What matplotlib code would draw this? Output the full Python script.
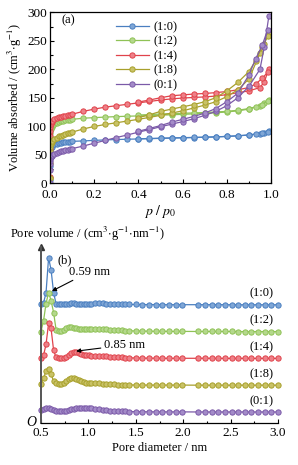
import matplotlib
matplotlib.use("Agg")
import matplotlib.pyplot as plt
from matplotlib.ticker import MultipleLocator
import numpy as np

plt.rcParams['font.family'] = ['Liberation Serif', 'DejaVu Serif']
plt.rcParams['mathtext.fontset'] = 'stix'
plt.rcParams['font.size'] = 9

# ---------------- data: panel (a) N2 isotherms ----------------
labels = ['(1:0)', '(1:2)', '(1:4)', '(1:8)', '(0:1)']
colors = ['#4a7fc0', '#8fc256', '#e0434b', '#a8a02c', '#7b5aa8']
faces = ['#7fa6d6', '#b4d88c', '#ee8088', '#c9c266', '#a38bc8']

p_ads = [0.0, 0.0002, 0.0005, 0.001, 0.002, 0.004, 0.007, 0.01, 0.02, 0.03, 0.04,
         0.05, 0.06, 0.07, 0.08, 0.09, 0.1, 0.15, 0.2, 0.25, 0.3, 0.35, 0.4, 0.45,
         0.5, 0.55, 0.6, 0.65, 0.7, 0.75, 0.8, 0.85, 0.9, 0.95, 0.97, 0.99]
p_des = [0.985, 0.96, 0.93, 0.9, 0.85, 0.8, 0.75, 0.7, 0.65, 0.6, 0.55, 0.5, 0.45, 0.4]

ads_10 = [5, 30, 45, 52, 57, 61, 64, 66, 68, 69.5, 70.5, 71, 71.5, 72, 72.5, 73, 73.3,
          74, 75, 75.8, 76.5, 77, 77.5, 78, 78.5, 79, 79.5, 80, 80.5, 81, 82, 83, 84.5,
          87, 88.5, 91]
des_10 = [90, 88, 86, 84.5, 83, 82, 81.2, 80.7, 80.2, 79.8, 79.3, 78.8, 78.3, 77.8]

ads_12 = [8, 50, 70, 80, 88, 95, 99, 101, 104, 106, 107.5, 108.5, 109.5, 110.3, 111,
          111.5, 112, 114, 115, 116, 116.8, 117.5, 118, 118.7, 119.4, 120, 120.8, 121.6,
          122.5, 123.5, 125, 127, 130, 136, 140, 146]
des_12 = [145, 138, 134, 131, 128, 126, 125, 124, 123.3, 122.7, 122, 121.3, 120.5, 119.5]

ads_14 = [10, 60, 82, 92, 99, 104, 107, 109, 112, 114, 115.5, 116.5, 117.5, 118.5, 119.3,
          120, 121, 126, 130, 133.5, 136, 138.5, 141, 143.5, 146, 148, 149.5, 150.5,
          151.5, 153, 155.5, 159, 162, 168, 178, 201]
des_14 = [195, 184, 174, 168, 164, 161, 159, 157.5, 156.5, 155, 153.5, 150, 146, 142.5]

ads_18 = [8, 35, 50, 57, 63, 68, 72, 74, 77.5, 80, 82, 83.5, 85, 86.5, 87.5, 88.5, 89.5,
          95, 99.5, 103, 106, 109, 112, 115.5, 119, 123, 127, 132, 137, 143, 152, 164,
          183, 228, 245, 266]
des_18 = [258, 240, 215, 196, 177, 162, 150, 143, 138, 134, 130, 126, 120, 115]

ads_01 = [0, 22, 33, 38, 42, 45, 47.5, 49, 51.5, 53, 54.5, 55.5, 56.5, 57.5, 58.5, 59.5,
          60.5, 65, 70, 75, 80, 84.5, 89.5, 94, 99, 103.5, 108, 113, 119, 126, 136, 150,
          170, 200, 240, 293]
des_01 = [270, 242, 218, 190, 158, 143, 131, 123, 117, 112, 107, 101, 96, 91]

ads_all = [ads_10, ads_12, ads_14, ads_18, ads_01]
des_all = [des_10, des_12, des_14, des_18, des_01]

# ---------------- data: panel (b) pore size distribution (a.u.) ----------------
d_pore = [0.500, 0.527, 0.553, 0.580, 0.606, 0.633, 0.659, 0.686, 0.712, 0.739, 0.765,
          0.792, 0.818, 0.845, 0.871, 0.898, 0.924, 0.951, 0.977, 1.004, 1.030,
          1.07, 1.11, 1.15, 1.19, 1.23, 1.27, 1.31, 1.35, 1.39, 1.43,
          1.50, 1.57, 1.64, 1.71, 1.78, 1.85, 1.92, 1.99,
          2.16, 2.23, 2.30, 2.37, 2.44, 2.51, 2.58, 2.65, 2.72, 2.79, 2.86, 2.93, 3.00]

psd_10 = [0.5, 2, 12, 47, 35, 12, 1, 0.5, 0.5, 0.5, 0.8, 1.2, 1.5, 1.5, 1.2, 0.9, 0.7,
          0.6, 0.7, 0.9, 1.1,
          1.3, 1.5, 1.4, 1.2, 1.0, 0.8, 0.6, 0.5, 0.4, 0.3,
          0.3, 0.2, 0.2, 0.2, 0.1, 0.1, 0.1, 0.1,
          0.1, 0.1, 0.1, 0.1, 0.1, 0.0, 0.0, 0.0, 0.0, 0.0, 0.0, 0.0, 0.0]
psd_12 = [0, 11, 28, 39, 31, 19, 2, 0.5, 0.5, 1.5, 3.5, 4.5, 4.5, 4.0, 3.5, 3.0, 3.0,
          3.0, 3.0, 3.0, 3.0,
          3.0, 2.8, 2.5, 2.2, 2.0, 1.7, 1.4, 1.2, 1.0, 0.8,
          0.6, 0.5, 0.4, 0.3, 0.3, 0.2, 0.2, 0.2,
          0.1, 0.1, 0.1, 0.1, 0.1, 0.1, 0.0, 0.0, 0.0, 0.0, 0.0, 0.0, 0.0]
psd_14 = [0.5, 3, 14, 35, 30, 8, 1, 0.5, 0.5, 0.8, 1.5, 3.0, 5.0, 6.5, 6.5, 5.5, 4.5,
          3.8, 3.3, 3.0, 2.8,
          2.8, 2.6, 2.3, 2.0, 1.7, 1.4, 1.1, 0.9, 0.7, 0.5,
          0.4, 0.3, 0.2, 0.2, 0.1, 0.1, 0.1, 0.1,
          0.1, 0.1, 0.1, 0.0, 0.0, 0.0, 0.0, 0.0, 0.0, 0.0, 0.0, 0.0, 0.0]
psd_18 = [1, 7, 14, 16, 11, 4, 2, 1, 1, 2, 4, 6, 7.3, 7.3, 6.5, 5.0, 3.8, 3.0, 2.6,
          2.4, 2.2,
          2.0, 1.8, 1.6, 1.3, 1.0, 0.8, 0.6, 0.4, 0.3, 0.2,
          0.2, 0.1, 0.1, 0.1, 0.1, 0.1, 0.1, 0.1,
          0.0, 0.0, 0.0, 0.0, 0.0, 0.0, 0.0, 0.0, 0.0, 0.0, 0.0, 0.0, 0.0]
psd_01 = [1.7, 3.4, 4.4, 4.0, 2.8, 1.7, 1.0, 0.7, 0.7, 0.9, 1.4, 2.0, 2.7, 3.3, 3.8,
          4.2, 4.4, 4.4, 4.3, 4.0, 3.6,
          3.1, 2.6, 2.1, 1.7, 1.4, 1.1, 0.8, 0.6, 0.5, 0.4,
          0.3, 0.2, 0.2, 0.1, 0.1, 0.1, 0.1, 0.1,
          0.0, 0.0, 0.0, 0.0, 0.0, 0.0, 0.0, 0.0, 0.0, 0.0, 0.0, 0.0, 0.0]
psd_all = [psd_10, psd_12, psd_14, psd_18, psd_01]

# ---------------- figure ----------------
W, H = 298, 465
fig = plt.figure(figsize=(W / 100, H / 100), dpi=100)

def ax_rect(l, r, t, b):
    return [l / W, 1 - b / H, (r - l) / W, (b - t) / H]

mk = dict(marker='o', markersize=3.8, markeredgewidth=0.7, linewidth=0.9)

# Panel (a)
ax1 = fig.add_axes(ax_rect(50, 271, 12.5, 183))
for lab, c, fc, ya, yd in zip(labels, colors, faces, ads_all, des_all):
    ax1.plot(p_ads, ya, color=c, mfc=fc, mec=c, label=lab, **mk)
    ax1.plot(p_des, yd, color=c, mfc=fc, mec=c, **mk)
ax1.set_xlim(0, 1.0)
ax1.set_ylim(0, 300)
ax1.xaxis.set_major_locator(MultipleLocator(0.2))
ax1.xaxis.set_minor_locator(MultipleLocator(0.1))
ax1.yaxis.set_major_locator(MultipleLocator(50))
ax1.yaxis.set_minor_locator(MultipleLocator(25))
ax1.tick_params(which='both', direction='in', labelsize=9.5, width=0.8)
ax1.tick_params(axis='x', pad=4)
ax1.tick_params(axis='y', pad=2)
ax1.tick_params(which='major', length=3)
ax1.tick_params(which='minor', length=1.8)
ax1.xaxis.set_major_formatter(matplotlib.ticker.FormatStrFormatter('%.1f'))
for t in ax1.get_yticklabels():
    t.set_verticalalignment('center_baseline')
ax1.set_xlabel(r'$p\ /\ p_0$', fontsize=10, labelpad=1.5)
ax1.set_ylabel(r'Volume absorbed / (cm$^3$$\cdot$g$^{-1}$)', fontsize=9, labelpad=2)
ax1.text(0.05, 0.955, '(a)', transform=ax1.transAxes, fontsize=9, va='center')
for s in ax1.spines.values():
    s.set_linewidth(0.9)
ax1.legend(loc='upper left', bbox_to_anchor=(0.26, 1.0), frameon=False,
           fontsize=9, handlelength=2.6, handletextpad=0.4, labelspacing=0.2,
           borderaxespad=0.3)

# Panel (b)
ax2 = fig.add_axes(ax_rect(41, 278, 247, 423.3))
spacing = 26.75
for i, (lab, c, fc, y) in enumerate(zip(labels, colors, faces, psd_all)):
    off = 11.3 + spacing * (4 - i)
    ax2.plot(d_pore, np.asarray(y) + off, color=c, mfc=fc, mec=c, clip_on=False, **mk)
    ax2.text(2.955, off + 11, lab, ha='right', va='center', fontsize=9)
ax2.set_xlim(0.5, 3.0)
ax2.set_ylim(0, 176)
ax2.spines['top'].set_visible(False)
ax2.spines['right'].set_visible(False)
ax2.spines['left'].set_color('#555555')
ax2.spines['left'].set_linewidth(1.4)
ax2.spines['bottom'].set_linewidth(0.9)
ax2.set_yticks([])
ax2.xaxis.set_major_locator(MultipleLocator(0.5))
ax2.xaxis.set_minor_locator(MultipleLocator(0.25))
ax2.xaxis.set_major_formatter(matplotlib.ticker.FormatStrFormatter('%.1f'))
ax2.tick_params(which='both', direction='in', labelsize=9.5, width=0.8, pad=3)
ax2.tick_params(which='major', length=3)
ax2.tick_params(which='minor', length=1.8)
ax2.set_xlabel('Pore diameter / nm', fontsize=9, labelpad=2)
ax2.plot([0], [1.0], marker='^', color='#333333', markersize=5,
         transform=ax2.transAxes, clip_on=False)
ax2.text(0.67, 162.6, '(b)', fontsize=9, va='center')
ax2.annotate('0.59 nm', xy=(0.615, 132), xytext=(0.80, 151.5), fontsize=9,
             va='center', ha='left',
             arrowprops=dict(arrowstyle='-|>', color='black', lw=0.8,
                             mutation_scale=6, shrinkA=0, shrinkB=0))
ax2.annotate('0.85 nm', xy=(0.87, 72), xytext=(1.16, 78), fontsize=9,
             va='center', ha='left',
             arrowprops=dict(arrowstyle='-|>', color='black', lw=0.8,
                             mutation_scale=6, shrinkA=0, shrinkB=0))
fig.text(31 / W, 1 - 422 / H, 'O', fontsize=10, style='italic', ha='center', va='center')
fig.text(10 / W, 1 - 234 / H, r'Pore volume / (cm$^3$$\cdot$g$^{-1}$$\cdot$nm$^{-1}$)',
         fontsize=9, ha='left', va='center')

fig.savefig('out.png', dpi=100)
